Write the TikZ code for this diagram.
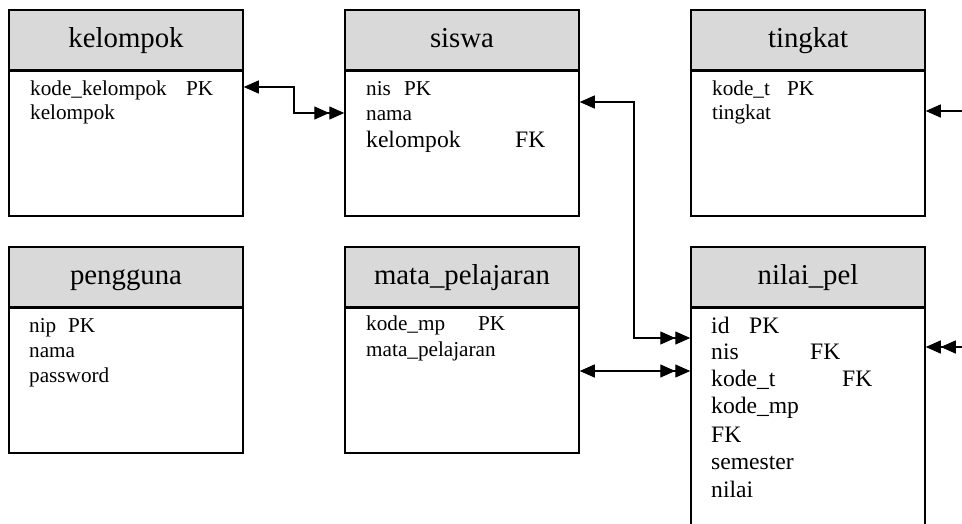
\documentclass[tikz,border=0pt]{standalone}
\usepackage{fontspec}
\setmainfont{Liberation Serif}
\usetikzlibrary{arrows.meta}
\definecolor{hdrgray}{HTML}{D9D9D9}
\begin{document}
\begin{tikzpicture}[x=1pt, y=-1pt,
  hdr/.style={draw, fill=hdrgray, line width=1.5pt, minimum width=234pt, minimum height=60pt, inner sep=0pt, text height=20pt, text depth=6pt, font=\fontsize{28.8}{32}\selectfont},
  bdy/.style={draw, line width=1.5pt, minimum width=234pt, minimum height=145pt, anchor=north, inner sep=0pt},
  fld/.style={anchor=base west, inner sep=0pt, font=\fontsize{21.2}{24}\selectfont},
  fldB/.style={anchor=base west, inner sep=0pt, font=\fontsize{23.6}{27}\selectfont},
  rel/.style={line width=1.3pt},
  oneTip/.tip={Triangle[length=15pt, width=13pt]},
  manyTip/.tip={Triangle[length=15pt, width=13pt, sep=0pt]Triangle[length=15pt, width=13pt]}]
\useasboundingbox (0,0) rectangle (962,523);
\clip (0,0) rectangle (962,523);
% top row
\node[bdy] (kelB) at (126,70) {}; \node[hdr] (kelH) at (126,40) {kelompok};
\node[fld] (kel1) at (30,95) {kode\_kelompok}; \node[fld] (kel1k) at (186,95) {PK};
\node[fld] (kel2) at (30,119) {kelompok};
\node[bdy] (sisB) at (462,70) {}; \node[hdr] (sisH) at (462,40) {siswa};
\node[fld] (sis1) at (366,95) {nis}; \node[fld] (sis1k) at (404,95) {PK};
\node[fld] (sis2) at (366,120) {nama};
\node[fldB] (sis3) at (366,147) {kelompok}; \node[fldB] (sis3k) at (515,147) {FK};
\node[bdy] (tkB) at (808,70) {}; \node[hdr] (tkH) at (808,40) {tingkat};
\node[fld] (tk1) at (712,95) {kode\_t}; \node[fld] (tk1k) at (787,95) {PK};
\node[fld] (tk2) at (712,119) {tingkat};
% bottom row
\node[bdy] (pgB) at (126,307) {}; \node[hdr] (pgH) at (126,277) {pengguna};
\node[fld] (pg1) at (29,332) {nip}; \node[fld] (pg1k) at (68,332) {PK};
\node[fld] (pg2) at (29,357) {nama};
\node[fld] (pg3) at (29,382) {password};
\node[bdy] (mpB) at (462,307) {}; \node[hdr] (mpH) at (462,277) {mata\_pelajaran};
\node[fld] (mp1) at (366,330) {kode\_mp}; \node[fld] (mp1k) at (478,330) {PK};
\node[fld] (mp2) at (366,356) {mata\_pelajaran};
\node[bdy, minimum height=240pt] (nilB) at (808,307) {}; \node[hdr] (nilH) at (808,277) {nilai\_pel};
\node[fldB] (nil1) at (711,333) {id}; \node[fldB] (nil1k) at (749,333) {PK};
\node[fldB] (nil2) at (711,359) {nis}; \node[fldB] (nil2k) at (810,359) {FK};
\node[fldB] (nil3) at (711,386) {kode\_t}; \node[fldB] (nil3k) at (842,386) {FK};
\node[fldB] (nil4) at (711,413) {kode\_mp};
\node[fldB] (nil5) at (711,442) {FK};
\node[fldB] (nil6) at (711,469) {semester};
\node[fldB] (nil7) at (711,497) {nilai};
% relations
\draw[rel, oneTip-manyTip] (kelB.east |- 0,87) -- (294,87) |- (sisB.west |- 0,113);
\draw[rel, oneTip-manyTip] (sisB.east |- 0,102) -- (634,102) |- (nilB.west |- 0,338);
\draw[rel, oneTip-manyTip] (mpB.east |- 0,371) -- (nilB.west |- 0,371);
\draw[rel, oneTip-manyTip] (tkB.east |- 0,111) -- (990,111) |- (nilB.east |- 0,347);
\end{tikzpicture}
\end{document}
